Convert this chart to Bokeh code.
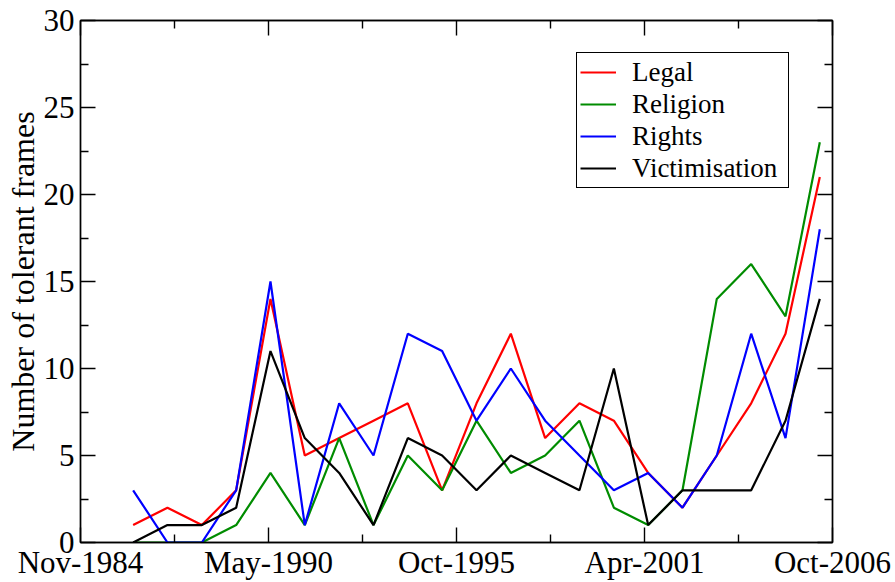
import pandas as pd
from bokeh.plotting import figure
from bokeh.models import (Range1d, FixedTicker, LinearAxis, Legend, LegendItem)
from bokeh.embed import file_html
from bokeh.resources import INLINE

# ---- data ----
years = [1986, 1987, 1988, 1989, 1990, 1991, 1992, 1993, 1994, 1995, 1996,
         1997, 1998, 1999, 2000, 2001, 2002, 2003, 2004, 2005, 2006]
legal = [1, 2, 1, 3, 14, 5, 6, 7, 8, 3, 8, 12, 6, 8, 7, 4, 2, 5, 8, 12, 21]
religion = [0, 0, 0, 1, 4, 1, 6, 1, 5, 3, 7, 4, 5, 7, 2, 1, 3, 14, 16, 13, 23]
rights = [3, 0, 0, 3, 15, 1, 8, 5, 12, 11, 7, 10, 7, 5, 3, 4, 2, 5, 12, 6, 18]
victim = [0, 1, 1, 2, 11, 6, 4, 1, 6, 5, 3, 5, 4, 3, 10, 1, 3, 3, 3, 7, 14]

series_names = ["Legal", "Religion", "Rights", "Victimisation"]
series_colors = ["#ff0000", "#008c00", "#0000ff", "#000000"]

tick_labels = ["Nov-1984", "May-1990", "Oct-1995", "Apr-2001", "Oct-2006"]
y_ticks = [0, 5, 10, 15, 20, 25, 30]

# x axis: days since the first tick date (grace-style ticks every 2000 days)
origin = pd.Timestamp("1984-11-01")
tick_pos = [2000 * i for i in range(len(tick_labels))]
minor_pos = [1000 + 2000 * i for i in range(len(tick_labels) - 1)]
xs = [(pd.Timestamp(year=y, month=5, day=15) - origin).days for y in years]

FONT = "Liberation Serif"

p = figure(width=895, height=582, output_backend="svg", toolbar_location=None,
           x_range=Range1d(0, 8000), y_range=Range1d(0, 30),
           min_border_left=80, min_border_right=63, min_border_top=20,
           min_border_bottom=38)
p.grid.visible = False
p.outline_line_color = "black"
p.outline_line_width = 1.4
p.background_fill_color = "white"
p.border_fill_color = "white"

renderers = []
for vals, col in zip([legal, religion, rights, victim], series_colors):
    r = p.line(xs, vals, line_color=col, line_width=2.2)
    renderers.append(r)

xt = FixedTicker(ticks=tick_pos, minor_ticks=minor_pos)
yt = FixedTicker(ticks=y_ticks, minor_ticks=[2.5 + 5 * i for i in range(6)])

def style(ax, labels=True):
    ax.axis_line_width = 1.4
    ax.axis_line_color = "black"
    ax.major_tick_line_color = "black"
    ax.minor_tick_line_color = "black"
    ax.major_tick_in = 15
    ax.major_tick_out = 0
    ax.minor_tick_in = 8
    ax.minor_tick_out = 0
    ax.major_tick_line_width = 1.4
    ax.minor_tick_line_width = 1.4
    if labels:
        ax.major_label_text_font = FONT
        ax.major_label_text_font_size = "31px"
        ax.major_label_text_color = "black"
    else:
        ax.major_label_text_font_size = "0px"
        ax.major_label_standoff = 0

xa = p.xaxis[0]
xa.ticker = xt
xa.major_label_overrides = {tp: lab for tp, lab in zip(tick_pos, tick_labels)}
style(xa)
xa.major_label_standoff = 2

ya = p.yaxis[0]
ya.ticker = yt
style(ya)
ya.major_label_standoff = 6
ya.axis_label = "Number of tolerant frames"
ya.axis_label_text_font = FONT
ya.axis_label_text_font_size = "32px"
ya.axis_label_text_font_style = "normal"
ya.axis_label_text_color = "black"
ya.axis_label_standoff = 0

top = LinearAxis(ticker=xt)
style(top, labels=False)
top.major_label_overrides = {tp: "" for tp in tick_pos}
p.add_layout(top, "above")

right = LinearAxis(ticker=yt)
style(right, labels=False)
right.major_label_overrides = {t: "" for t in y_ticks}
p.add_layout(right, "right")

legend = Legend(items=[LegendItem(label=n, renderers=[r]) for n, r in zip(series_names, renderers)],
                location=(496, 354))
legend.label_text_font = FONT
legend.label_text_font_size = "27px"
legend.label_text_color = "black"
legend.label_height = 32
legend.glyph_height = 32
legend.glyph_width = 36
legend.label_standoff = 16
legend.label_width = 153
legend.spacing = 0
legend.padding = 3
legend.margin = 0
legend.border_line_color = "black"
legend.border_line_alpha = 1.0
legend.border_line_width = 1.3
legend.background_fill_alpha = 1.0
p.add_layout(legend, "center")

open("out.html", "w").write(file_html(p, INLINE))
